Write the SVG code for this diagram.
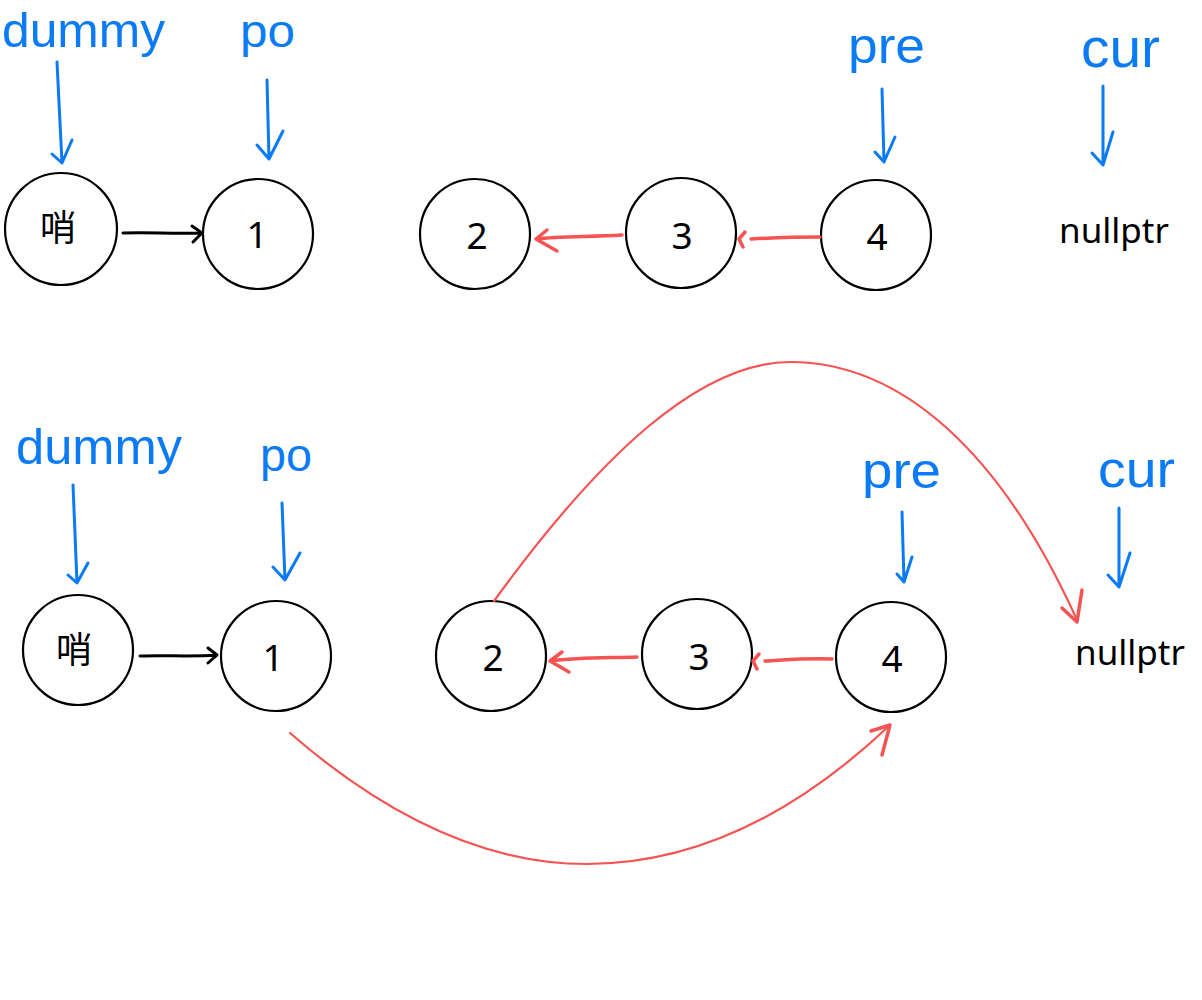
<svg xmlns="http://www.w3.org/2000/svg" width="1202" height="1000" viewBox="0 0 1202 1000">
<style>
.node circle{fill:#fff;stroke:#000;stroke-width:2.2}
.num{font-family:"Noto Sans","Liberation Sans",sans-serif;font-size:37px;fill:#000;text-anchor:middle}
.cjk{font-family:"Noto Sans CJK SC","Noto Sans",sans-serif;font-size:36px;fill:#000;text-anchor:middle}
.null{font-family:"Noto Sans","Liberation Sans",sans-serif;font-size:35px;fill:#000}
.lbl{font-family:"Liberation Sans","DejaVu Sans",sans-serif;fill:#0A7BF5}
.blue{fill:none;stroke:#0A7BF5;stroke-width:3;stroke-linecap:round;stroke-linejoin:round}
.red{fill:none;stroke:#F55452;stroke-width:3.5;stroke-linecap:round;stroke-linejoin:round}
.redthin{fill:none;stroke:#F55452;stroke-width:2.2;stroke-linecap:round;stroke-linejoin:round}
.black{fill:none;stroke:#000;stroke-width:3;stroke-linecap:round;stroke-linejoin:round}
</style>
<rect width="1202" height="1000" fill="#fff"/>

<g id="labels">
<text class="lbl" x="2" y="47" font-size="48" textLength="163" lengthAdjust="spacingAndGlyphs">dummy</text>
<text class="lbl" x="240" y="47" font-size="46" textLength="55" lengthAdjust="spacingAndGlyphs">po</text>
<text class="lbl" x="848" y="63" font-size="50" textLength="77" lengthAdjust="spacingAndGlyphs">pre</text>
<text class="lbl" x="1081" y="67" font-size="56" textLength="79" lengthAdjust="spacingAndGlyphs">cur</text>
<text class="lbl" x="16" y="464" font-size="50" textLength="166" lengthAdjust="spacingAndGlyphs">dummy</text>
<text class="lbl" x="260" y="471" font-size="46" textLength="52" lengthAdjust="spacingAndGlyphs">po</text>
<text class="lbl" x="862" y="488" font-size="50" textLength="79" lengthAdjust="spacingAndGlyphs">pre</text>
<text class="lbl" x="1098" y="487" font-size="52" textLength="77" lengthAdjust="spacingAndGlyphs">cur</text>
</g>

<g id="top-sentinel" class="node"><circle cx="61" cy="229" r="56"/><text class="cjk" x="58" y="241">哨</text></g>
<g id="top-1" class="node"><circle cx="258" cy="234" r="55"/><text class="num" x="257" y="248">1</text></g>
<g id="top-2" class="node"><circle cx="475" cy="234" r="55"/><text class="num" x="477" y="249">2</text></g>
<g id="top-3" class="node"><circle cx="681" cy="233" r="55"/><text class="num" x="682" y="249">3</text></g>
<g id="top-4" class="node"><circle cx="876" cy="235" r="55"/><text class="num" x="877" y="250">4</text></g>
<g id="top-nullptr"><text class="null" x="1059" y="243">nullptr</text></g>

<g id="bot-sentinel" class="node"><circle cx="78" cy="650" r="55"/><text class="cjk" x="74" y="663">哨</text></g>
<g id="bot-1" class="node"><circle cx="276" cy="656" r="55"/><text class="num" x="273" y="671">1</text></g>
<g id="bot-2" class="node"><circle cx="491" cy="656" r="55"/><text class="num" x="493" y="671">2</text></g>
<g id="bot-3" class="node"><circle cx="697" cy="654" r="55"/><text class="num" x="699" y="670">3</text></g>
<g id="bot-4" class="node"><circle cx="891" cy="657" r="55"/><text class="num" x="892" y="672">4</text></g>
<g id="bot-nullptr"><text class="null" x="1075" y="665">nullptr</text></g>

<g id="connectors">
<path class="blue" d="M57,62 L62,163 M52,154 L62,163 L72,140"/>
<path class="blue" d="M267,80 L269,159 M257,145 L269,159 L283,131"/>
<path class="blue" d="M882,89 L884,162 M875,152 L884,162 L895,137"/>
<path class="blue" d="M1103,86 L1103,165 M1092,153 L1103,165 L1113,132"/>
<path class="blue" d="M73,485 L77,583 M68,575 L77,583 L88,563"/>
<path class="blue" d="M282,503 L285,580 M273,567 L285,580 L300,553"/>
<path class="blue" d="M902,512 L904,582 M897,574 L904,582 L912,557"/>
<path class="blue" d="M1119,508 L1119,587 M1108,575 L1119,587 L1130,553"/>
<path class="black" d="M123,233 C150,232 170,234 202,233 M192,226 L202,233 L193,242"/>
<path class="black" d="M140,656 C165,655 190,657 217,655 M208,648 L217,655 L208,663"/>
<path class="red" d="M622,235 C590,237 560,236 536,239 M547,230 L536,239 L557,251"/>
<path class="red" d="M820,237 C790,237 770,238 751,239 M745,232 L739,239 L743,247"/>
<path class="red" d="M637,657 C605,658 580,657 550,661 M562,652 L550,661 L569,672"/>
<path class="red" d="M832,659 C805,658 785,660 765,661 M759,654 L753,661 L757,669"/>
<path class="redthin" d="M494,601 C600,455 700,362 790,362 C900,362 1000,450 1077,620"/>
<path class="red" d="M1062,608 L1077,622 L1082,590"/>
<path class="redthin" d="M290,733 C390,820 490,864 587,864 C700,864 800,810 889,726"/>
<path class="red" d="M871,731 L890,725 L882,755"/>
</g>
</svg>
